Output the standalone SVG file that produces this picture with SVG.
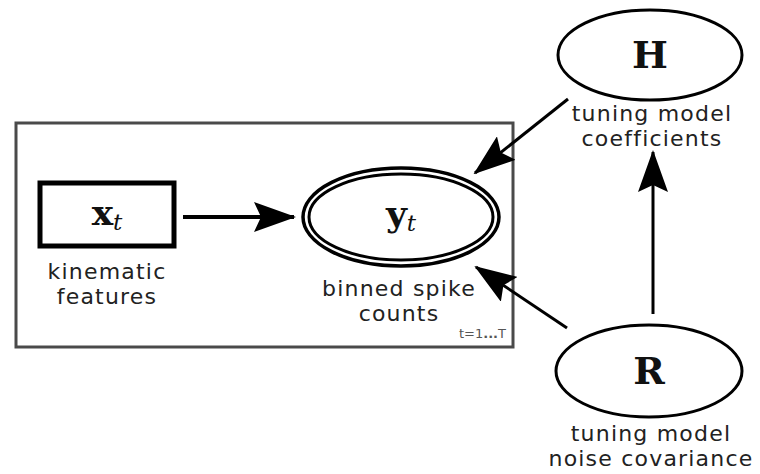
<svg xmlns="http://www.w3.org/2000/svg" width="760" height="474" viewBox="0 0 760 474">
  <defs>
    <marker id="arrow" viewBox="0 0 42 30" refX="40" refY="15" markerWidth="42" markerHeight="30" markerUnits="userSpaceOnUse" orient="auto">
      <path d="M0,0 L42,15 L0,30 L7,15 z" fill="#000"/>
    </marker>
    <style>
      .lbl { font-family: "DejaVu Sans", "Liberation Sans", sans-serif; font-size: 22px; letter-spacing: 1.2px; fill: #222; text-anchor: middle; }
      .math { font-family: "DejaVu Serif", "Liberation Serif", serif; font-weight: bold; fill: #111; text-anchor: middle; }
      .sub { font-family: "DejaVu Serif", "Liberation Serif", serif; font-style: italic; font-weight: normal; font-size: 23px; }
      .edge { stroke: #000; stroke-width: 3; fill: none; }
      .node { fill: #fff; stroke: #000; }
    </style>
  </defs>
  <rect width="760" height="474" fill="#fff"/>

  <!-- plate over time steps -->
  <g id="plate">
    <rect x="16" y="123" width="497" height="224" fill="none" stroke="#4a4a4a" stroke-width="3"/>
    <text x="506" y="338" font-family="DejaVu Sans, sans-serif" font-size="13" fill="#555" text-anchor="end">t=1<tspan font-weight="bold">...</tspan>T</text>
  </g>

  <!-- connectors -->
  <g id="edges">
    <line class="edge" x1="183" y1="217" x2="294" y2="217" marker-end="url(#arrow)" style="stroke-width:4"/>
    <line class="edge" x1="568" y1="99" x2="475" y2="173" marker-end="url(#arrow)"/>
    <line class="edge" x1="567" y1="328" x2="476" y2="267" marker-end="url(#arrow)"/>
    <line class="edge" x1="653" y1="314" x2="653" y2="152" marker-end="url(#arrow)"/>
  </g>

  <g id="node-x">
    <rect class="node" x="40" y="183" width="134" height="63" stroke-width="5"/>
    <text class="math" x="107" y="225" font-size="36">x<tspan class="sub" dy="5">t</tspan></text>
    <text class="lbl" x="107" y="279">kinematic</text>
    <text class="lbl" x="107" y="304">features</text>
  </g>

  <g id="node-y">
    <ellipse class="node" cx="401" cy="217" rx="98" ry="49" stroke-width="3.5"/>
    <ellipse class="node" cx="401" cy="217" rx="92" ry="43" stroke-width="3"/>
    <text class="math" x="401" y="226" font-size="36">y<tspan class="sub" dy="5">t</tspan></text>
    <text class="lbl" x="399" y="296">binned spike</text>
    <text class="lbl" x="399" y="321">counts</text>
  </g>

  <g id="node-H">
    <ellipse class="node" cx="650" cy="55" rx="92" ry="45" stroke-width="3"/>
    <text class="math" x="650" y="68" font-size="38">H</text>
    <text class="lbl" x="652" y="121">tuning model</text>
    <text class="lbl" x="652" y="146">coefficients</text>
  </g>

  <g id="node-R">
    <ellipse class="node" cx="649" cy="371" rx="93" ry="46" stroke-width="3"/>
    <text class="math" x="649" y="384" font-size="38">R</text>
    <text class="lbl" x="651" y="441">tuning model</text>
    <text class="lbl" x="651" y="466">noise covariance</text>
  </g>
</svg>
